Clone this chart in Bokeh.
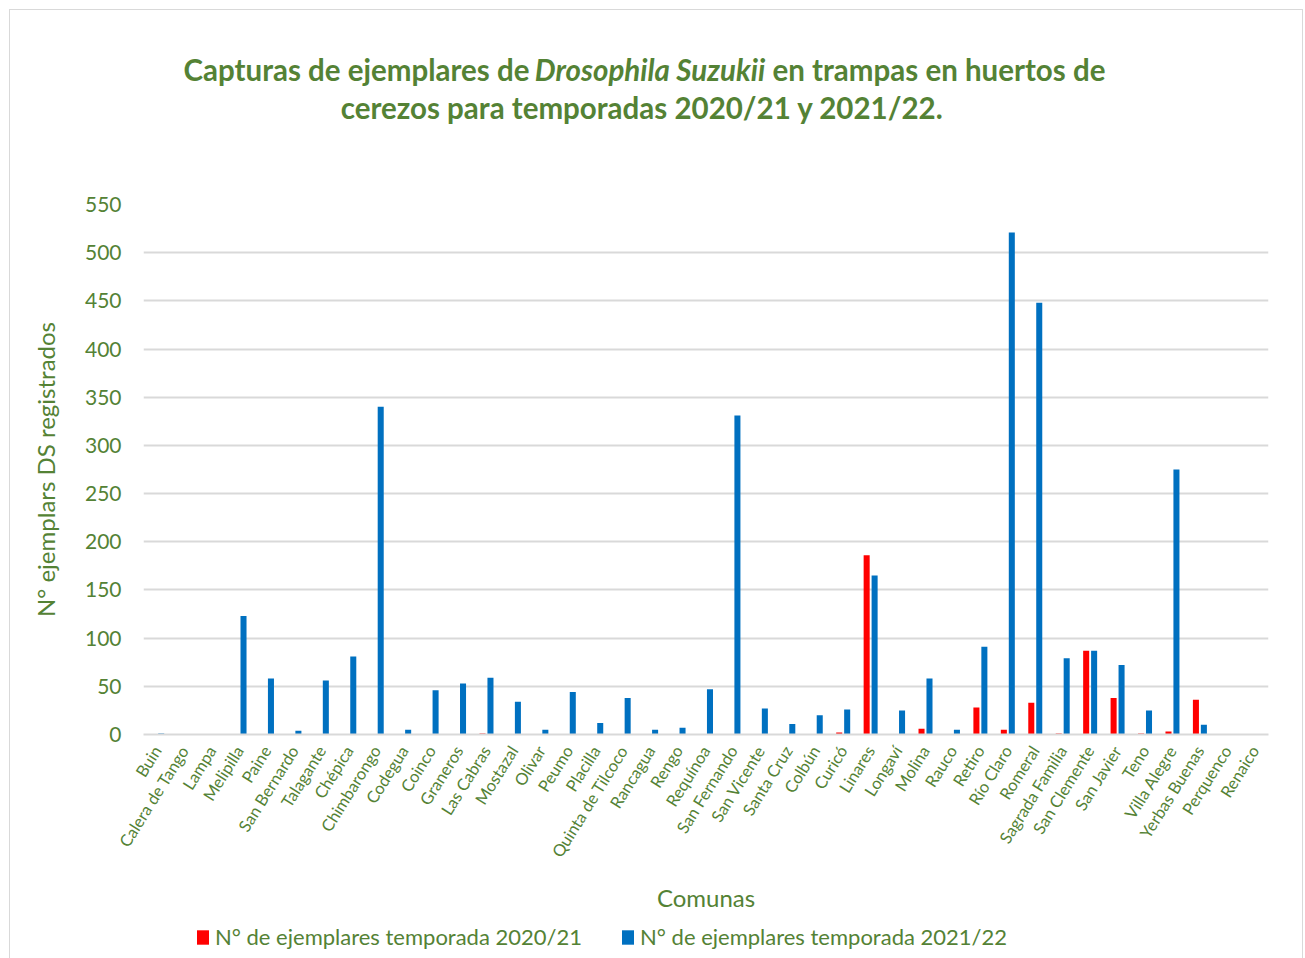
import math
from bokeh.plotting import figure
from bokeh.layouts import column
from bokeh.models import (FactorRange, Range1d, Legend, LegendItem, Label,
                          FixedTicker, ColumnDataSource)
from bokeh.transform import dodge
from bokeh.embed import file_html
from bokeh.resources import INLINE

comunas = ["Buin", "Calera de Tango", "Lampa", "Melipilla", "Paine", "San Bernardo",
           "Talagante", "Chépica", "Chimbarongo", "Codegua", "Coinco", "Graneros",
           "Las Cabras", "Mostazal", "Olivar", "Peumo", "Placilla", "Quinta de Tilcoco",
           "Rancagua", "Rengo", "Requínoa", "San Fernando", "San Vicente", "Santa Cruz",
           "Colbún", "Curicó", "Linares", "Longaví", "Molina", "Rauco", "Retiro",
           "Río Claro", "Romeral", "Sagrada Familia", "San Clemente", "San Javier",
           "Teno", "Villa Alegre", "Yerbas Buenas", "Perquenco", "Renaico"]

temporada_2020_21 = [0, 0, 0, 0, 0, 0, 0, 0, 0, 0, 0, 0, 1, 0, 0, 0, 0, 0, 0, 0, 0,
                     0, 0, 0, 0, 2, 186, 0, 6, 0, 28, 5, 33, 1, 87, 38, 1, 3, 36, 0, 0]

temporada_2021_22 = [1, 0, 0, 123, 58, 4, 56, 81, 340, 5, 46, 53, 59, 34, 5, 44, 12, 38,
                     5, 7, 47, 331, 27, 11, 20, 26, 165, 25, 58, 5, 91, 521, 448, 79, 87,
                     72, 25, 275, 10, 0, 0]

y_ticks = [0, 50, 100, 150, 200, 250, 300, 350, 400, 450, 500, 550]

serie_labels = ["N° de ejemplares temporada 2020/21", "N° de ejemplares temporada 2021/22"]
title_line1 = ["Capturas de ejemplares de", "Drosophila Suzukii", "en trampas  en huertos de"]
title_line2 = "cerezos  para temporadas 2020/21 y 2021/22."
x_title = "Comunas"
y_title = "N° ejemplars DS registrados"

GREEN = "#548235"
RED = "#FF0000"
BLUE = "#0070C0"
FONT = "Lato"

W = 1292
H_TITLE = 170
H_MAIN = 735
H_LEG = 43
MB_L, MB_R = 133, 34

src = ColumnDataSource(dict(comuna=comunas, t1=temporada_2020_21, t2=temporada_2021_22))
x_range = FactorRange(factors=comunas)


def strip(height, xr, yr):
    f = figure(width=W, height=height, output_backend="svg", toolbar_location=None,
               x_range=xr, y_range=yr, x_axis_type=None, y_axis_type=None,
               min_border_left=MB_L, min_border_right=MB_R,
               min_border_top=0, min_border_bottom=0)
    f.outline_line_color = None
    f.xgrid.grid_line_color = None
    f.ygrid.grid_line_color = None
    return f


def add_bars(f):
    a = f.vbar(x=dodge("comuna", -0.145, range=x_range), top="t1", width=0.22,
               source=src, fill_color=RED, line_color=None)
    b = f.vbar(x=dodge("comuna", 0.145, range=x_range), top="t2", width=0.22,
               source=src, fill_color=BLUE, line_color=None)
    return a, b


# ---- title strip (page-pixel coordinates) ----
t = strip(H_TITLE, Range1d(143, 1268), Range1d(10 + H_TITLE, 10))
tstyle = dict(text_font=FONT, text_font_size="29.5px", text_color=GREEN,
              text_baseline="middle")
t.add_layout(Label(x=529, y=69, text=title_line1[0], text_align="right",
                   text_font_style="bold", **tstyle))
t.add_layout(Label(x=649.5, y=69, text=title_line1[1], text_align="center",
                   text_font_style="bold italic", **tstyle))
t.add_layout(Label(x=772, y=69, text=title_line1[2], text_align="left",
                   text_font_style="bold", **tstyle))
t.add_layout(Label(x=645.5, y=107, text=title_line2, text_align="center",
                   text_font_style="bold", **tstyle))

# ---- main chart ----
p = figure(x_range=x_range, y_range=Range1d(0, 550),
           width=W, height=H_MAIN, output_backend="svg", toolbar_location=None,
           min_border_left=MB_L, min_border_right=MB_R, min_border_top=24,
           min_border_bottom=181)
p.outline_line_color = None
r1, r2 = add_bars(p)

p.xgrid.grid_line_color = None
p.ygrid.grid_line_color = "#d9d9d9"
p.ygrid.grid_line_width = 2

p.yaxis.ticker = FixedTicker(ticks=y_ticks)
p.yaxis.axis_line_color = None
p.yaxis.major_tick_line_color = None
p.yaxis.minor_tick_line_color = None
p.yaxis.major_tick_in = 0
p.yaxis.major_tick_out = 0
p.yaxis.major_label_standoff = 22
p.yaxis.major_label_text_font = FONT
p.yaxis.major_label_text_font_size = "21px"
p.yaxis.major_label_text_color = GREEN
p.yaxis.axis_label = y_title
p.yaxis.axis_label_text_font = FONT
p.yaxis.axis_label_text_font_size = "24px"
p.yaxis.axis_label_text_font_style = "normal"
p.yaxis.axis_label_text_color = GREEN
p.yaxis.axis_label_standoff = 22

p.xaxis.axis_line_color = "#d9d9d9"
p.xaxis.axis_line_width = 2
p.xaxis.major_tick_line_color = None
p.xaxis.minor_tick_line_color = None
p.xaxis.major_tick_in = 0
p.xaxis.major_tick_out = 0
p.xaxis.major_label_orientation = math.radians(58)
p.xaxis.major_label_standoff = 13
p.xaxis.major_label_text_font = FONT
p.xaxis.major_label_text_font_size = "16.5px"
p.xaxis.major_label_text_color = GREEN
p.xaxis.axis_label = x_title
p.xaxis.axis_label_text_font = FONT
p.xaxis.axis_label_text_font_size = "24px"
p.xaxis.axis_label_text_font_style = "normal"
p.xaxis.axis_label_text_color = GREEN
p.xaxis.axis_label_standoff = 14

# ---- legend strip: same series, drawn with a y-range above the data so
# only the legend is visible ----
lg = strip(H_LEG, x_range, Range1d(600, 700))
l1, l2 = add_bars(lg)
legend = Legend(items=[LegendItem(label=serie_labels[0], renderers=[l1]),
                       LegendItem(label=serie_labels[1], renderers=[l2])],
                orientation="horizontal", location=(52, 8),
                padding=0, margin=0, spacing=38, label_standoff=5,
                glyph_width=15, glyph_height=18,
                label_text_font=FONT, label_text_font_size="22px",
                label_text_color=GREEN, background_fill_alpha=0,
                border_line_color=None)
lg.add_layout(legend, "center")

layout = column(t, p, lg, spacing=0, margin=(9, 0, 0, 9),
                styles={"border": "1px solid #d9d9d9"})

open("out.html", "w").write(file_html(layout, INLINE))
